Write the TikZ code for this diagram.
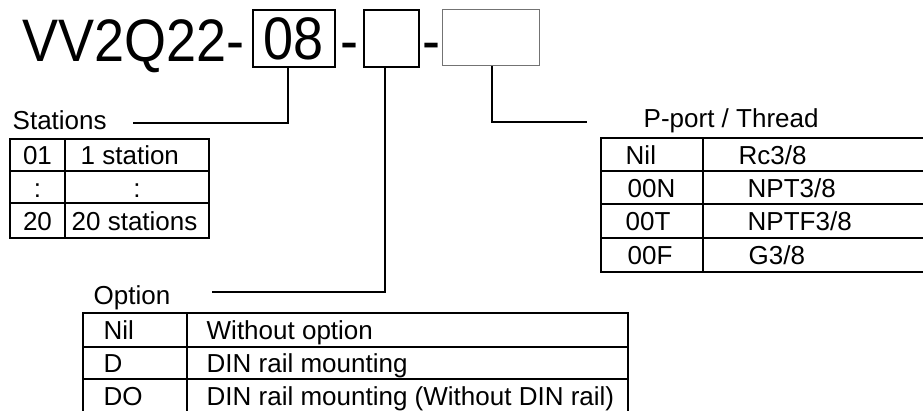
\documentclass[tikz,border=0pt]{standalone}
\usepackage{fontspec}
\setmainfont{Liberation Sans}
\usetikzlibrary{positioning}

\newcommand{\narrow}[1]{\scalebox{0.9}[1]{#1}}

\tikzset{
  big/.style={font=\fontsize{60}{66}\selectfont, inner sep=0pt},
  txt/.style={font=\fontsize{26}{30}\selectfont, inner sep=0pt, anchor=base west},
  ctxt/.style={txt, anchor=base},
  codebox/.style={draw, rectangle, line width=1.8pt, inner sep=0pt},
}

\begin{document}
\begin{tikzpicture}[x=1pt, y=-1pt, line width=1.4pt]
    \useasboundingbox (0,0) rectangle (923,410);
    \clip (0,0) rectangle (923,410);

    % model code
    \node[big, anchor=base west] (code) at (22,61) {\narrow{VV2Q22-}};
    \node[codebox, big, minimum width=82pt, minimum height=57pt] (stn) at (294,38.5) {\narrow{08}};
    \node[big, anchor=base] (dashA) at (349,61) {\narrow{-}};
    \node[codebox, minimum width=55pt, minimum height=57pt] (opt) at (391.5,38.5) {};
    \node[big, anchor=base] (dashB) at (431,61) {\narrow{-}};
    \node[codebox, draw=black!55, line width=1pt, minimum width=97pt, minimum height=56pt] (port) at (490.5,37.5) {};

    % labels
    \node[txt] (stnlabel) at (12,129) {Stations};
    \node[txt] (optlabel) at (93,304) {Option};
    \node[txt] (portlabel) at (643,127) {P-port / Thread};

    \coordinate (stnend) at (133,123);
    \coordinate (optend) at (212,292);
    \coordinate (portend) at (587,122);
    \draw ([xshift=-6pt]stn.south) |- (stnend);
    \draw ([xshift=-6.5pt]opt.south) |- (optend);
    \draw ([xshift=1.5pt]port.south) |- (portend);

    % stations table
    \draw (10,139) rectangle (209,238);
    \draw (65,139) -- (65,238);
    \draw (10,171) -- (209,171);
    \draw (10,203) -- (209,203);
    \node[ctxt] (s1a) at (37.5,164.5) {01};
    \node[txt] (s1b) at (80,164.5) {1 station};
    \node[ctxt] (s2a) at (37.5,197) {:};
    \node[ctxt] (s2b) at (137,197) {:};
    \node[ctxt] (s3a) at (37.5,230) {20};
    \node[txt] (s3b) at (71,230) {20 stations};

    % p-port table
    \draw (930,138) -- (601,138) -- (601,272) -- (930,272);
    \draw (703,138) -- (703,272);
    \draw (601,171) -- (930,171);
    \draw (601,204) -- (930,204);
    \draw (601,238) -- (930,238);
    \node[txt] (p1a) at (625,164) {Nil};
    \node[txt] (p1b) at (738,164) {Rc3/8};
    \node[txt] (p2a) at (627,197) {00N};
    \node[txt] (p2b) at (747,197) {NPT3/8};
    \node[txt] (p3a) at (625,230.5) {00T};
    \node[txt] (p3b) at (747,230.5) {NPTF3/8};
    \node[txt] (p4a) at (627,264.5) {00F};
    \node[txt] (p4b) at (748,264.5) {G3/8};

    % option table
    \draw (83,414) -- (83,313) -- (628,313) -- (628,414);
    \draw (187,313) -- (187,414);
    \draw (83,347) -- (628,347);
    \draw (83,379) -- (628,379);
    \node[txt] (o1a) at (103,339.5) {Nil};
    \node[txt] (o1b) at (206,339.5) {Without option};
    \node[txt] (o2a) at (103,372.5) {D};
    \node[txt] (o2b) at (206,372.5) {DIN rail mounting};
    \node[txt] (o3a) at (103,405.5) {DO};
    \node[txt] (o3b) at (206,405.5) {DIN rail mounting (Without DIN rail)};
\end{tikzpicture}
\end{document}
